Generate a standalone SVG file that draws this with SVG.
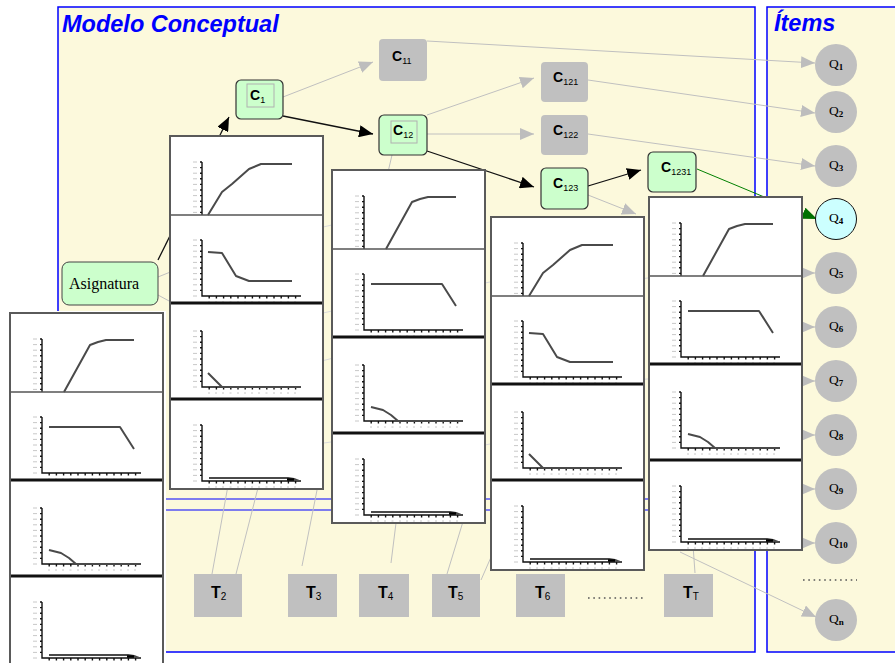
<svg xmlns="http://www.w3.org/2000/svg" width="895" height="663" viewBox="0 0 895 663">
<style>
.panel{fill:#fcf9dc;stroke:#0000ff;stroke-width:1.5}
.title{font-family:"Liberation Sans",Arial,sans-serif;font-weight:bold;font-style:italic;font-size:23.5px;fill:#0000ff}
.cn{fill:#ccffcc;stroke:#333;stroke-width:1.2}
.inner{fill:none;stroke:#b0b0b0;stroke-width:1}
.gn{fill:#c0c0c0}
.cl{font-family:"Liberation Sans",Arial,sans-serif;font-size:14px;font-weight:bold;fill:#000}
.sub{font-size:9px;font-weight:normal}
.tl{font-family:"Liberation Sans",Arial,sans-serif;font-size:16px;font-weight:bold;fill:#000}
.tsub{font-size:10px;font-weight:normal}
.q{fill:#c0c0c0}
.ql{font-family:"Liberation Serif","Times New Roman",serif;font-size:13.5px;fill:#000}
.qsub{font-size:9px;font-weight:bold}
.lg{stroke:#c0c0c0;stroke-width:1;fill:none}
.lf{stroke:#dadada;stroke-width:1;fill:none}
.lk{stroke:#111;stroke-width:1.3;fill:none}
.curve{fill:none;stroke:#4a4a4a;stroke-width:2;stroke-linejoin:round}
.axis{fill:none;stroke:#111;stroke-width:1.4}
.tick{fill:none;stroke:#c8c8c8;stroke-width:1}
.dots{fill:none;stroke:#555;stroke-width:1.6;stroke-dasharray:1.6 3.7}
</style>
<defs>
  <marker id="ag" markerUnits="userSpaceOnUse" markerWidth="14" markerHeight="12" refX="14" refY="6" orient="auto"><path d="M0,0 L14,6 L0,12 Z" fill="#bdbdbd"/></marker>
  <marker id="ab" markerUnits="userSpaceOnUse" markerWidth="14" markerHeight="12" refX="14" refY="6" orient="auto"><path d="M0,0 L14,6 L0,12 Z" fill="#000"/></marker>
  <marker id="agr" markerUnits="userSpaceOnUse" markerWidth="15" markerHeight="12" refX="15" refY="6" orient="auto"><path d="M0,0 L15,6 L0,12 Z" fill="#007000"/></marker>

  <!-- one small chart axis pair, top of the y axis at y=0 -->
  <g id="ax">
    <path class="tick" d="M23,0h4M23,5.6h4M23,11.2h4M23,16.8h4M23,22.4h4M23,28h4M23,33.6h4M23,39.2h4M23,44.8h4M23,50.4h4M23,56h4M38,62h2M45,62h2M52,62h2M59.5,62h2M67,62h2M74,62h2M81,62h2M88,62h2M95.5,62h2M103,62h2M110,62h2M117,62h2M124,62h2"/>
    <path class="axis" d="M32,0V56H131M30,0h2M30,5.6h2M30,11.2h2M30,16.8h2M30,22.4h2M30,28h2M30,33.6h2M30,39.2h2M30,44.8h2M30,50.4h2M39.2,56v2.5M46.4,56v2.5M53.6,56v2.5M60.8,56v2.5M68,56v2.5M75.2,56v2.5M82.4,56v2.5M89.6,56v2.5M96.8,56v2.5M104,56v2.5M111.2,56v2.5M118.4,56v2.5M125.6,56v2.5"/>
  </g>

  <!-- column of four charts, variant A -->
  <g id="stackA">
    <rect width="153" height="353" fill="#fff"/>
    <use href="#ax" y="26"/>
    <rect y="79" width="153" height="274" fill="#fff"/>
    <use href="#ax" y="104"/>
    <use href="#ax" y="195"/>
    <use href="#ax" y="289"/>
    <polyline class="curve" points="54,79 80,32 88,29 96,27 124,27"/>
    <polyline class="curve" points="39,114 110,114 124,136"/>
    <polyline class="curve" points="39,237 51,240 59,245 66,251 131,251"/>
    <polyline class="curve" points="39,342 118,342 124,343 129,345"/>
    <path d="M117,343.5h7" stroke="#000" stroke-width="2.5"/>
    <path d="M0,79H153" stroke="#555" stroke-width="1.5"/>
    <path d="M0,167H153M0,263H153" stroke="#111" stroke-width="3"/>
    <rect width="153" height="353" fill="none" stroke="#5a5a5a" stroke-width="2"/>
  </g>

  <!-- column of four charts, variant B -->
  <g id="stackB">
    <rect width="153" height="353" fill="#fff"/>
    <use href="#ax" y="26"/>
    <rect y="79" width="153" height="274" fill="#fff"/>
    <use href="#ax" y="104"/>
    <use href="#ax" y="195"/>
    <use href="#ax" y="289"/>
    <polyline class="curve" points="38,79 52,56 62,48 79,33 91,28 122,28"/>
    <polyline class="curve" points="38,116 52,117 66,140 79,145 122,145"/>
    <polyline class="curve" points="38,237 52,251 131,251"/>
    <polyline class="curve" points="39,342 118,342 124,343 129,345"/>
    <path d="M117,343.5h7" stroke="#000" stroke-width="2.5"/>
    <path d="M0,79H153" stroke="#555" stroke-width="1.5"/>
    <path d="M0,167H153M0,263H153" stroke="#111" stroke-width="3"/>
    <rect width="153" height="353" fill="none" stroke="#5a5a5a" stroke-width="2"/>
  </g>
</defs>

<rect width="895" height="663" fill="#fff"/>

<!-- panels -->
<g id="panel-modelo">
  <rect class="panel" x="58" y="7" width="697" height="645"/>
  <path d="M166,499H700M166,510H700" stroke="#0000ff" stroke-width="1.2"/>
  <text class="title" x="62" y="31.5">Modelo Conceptual</text>
</g>
<g id="panel-items">
  <rect class="panel" x="767" y="7" width="140" height="645"/>
  <text class="title" x="774" y="30.5">Ítems</text>
</g>

<!-- connectors -->
<g id="connectors">
  <path class="lg" d="M283,97 L373,62" marker-end="url(#ag)"/>
  <path class="lg" d="M427,115 L534,78" marker-end="url(#ag)"/>
  <path class="lg" d="M427,134 L534,134" marker-end="url(#ag)"/>
  <path class="lg" d="M427,41 L815,63" marker-end="url(#ag)"/>
  <path class="lg" d="M588,80 L815,113" marker-end="url(#ag)"/>
  <path class="lg" d="M588,134 L815,166" marker-end="url(#ag)"/>
  <path class="lg" d="M588,195 L636,214" marker-end="url(#ag)"/>
  <path class="lg" d="M770,273 L815,273" marker-end="url(#ag)"/>
  <path class="lg" d="M770,327 L815,327" marker-end="url(#ag)"/>
  <path class="lg" d="M770,381 L815,381" marker-end="url(#ag)"/>
  <path class="lg" d="M770,435 L815,435" marker-end="url(#ag)"/>
  <path class="lg" d="M770,489 L815,489" marker-end="url(#ag)"/>
  <path class="lg" d="M770,543 L815,543" marker-end="url(#ag)"/>
  <path class="lg" d="M680,552 L816,617" marker-end="url(#ag)"/>
  <path class="lg" d="M392,155 L385,185"/>
  <path class="lg" d="M158,277 L195,262M158,295 L195,315"/>
  <path class="lg" d="M212,574 L229,480M236,574 L260,480M302,566 L319,480M391,563 L397,515M447,574 L465,515M481,580 L495,548M695,573 L693,545"/>
  <path class="lf" d="M310,230 L345,222M310,316 L345,308M310,364 L345,355M310,445 L345,440M475,285 L500,280M475,447 L500,442M635,280 L660,276M635,380 L660,378"/>
  <path class="lk" d="M283,116 L373,134" marker-end="url(#ab)"/>
  <path class="lk" d="M427,151 L534,187" marker-end="url(#ab)"/>
  <path class="lk" d="M588,186 L641,170" marker-end="url(#ab)"/>
  <path class="lk" d="M158,260 L229,117" marker-end="url(#ab)"/>
  <path d="M697,169 L817,219" stroke="#008000" stroke-width="1" fill="none" marker-end="url(#agr)"/>
</g>

<!-- chart columns -->
<g id="slice-1"><rect x="7" y="311" width="159" height="360" fill="#fff"/><use href="#stackA" x="10" y="313"/></g>
<g id="slice-2"><use href="#stackB" x="170" y="136"/></g>
<g id="slice-3"><use href="#stackA" x="332" y="170"/></g>
<g id="slice-4"><use href="#stackB" x="491" y="217"/></g>
<g id="slice-5"><use href="#stackA" x="649" y="197"/></g>

<!-- concept nodes -->
<g id="asignatura">
  <rect x="62" y="262" width="96" height="43" rx="7" fill="#ccffcc" stroke="#444" stroke-width="1"/>
  <text x="69" y="289" font-family="'Liberation Serif','Times New Roman',serif" font-size="16">Asignatura</text>
</g>
<g id="c1">
  <rect class="cn" x="236" y="80" width="47" height="39" rx="5"/>
  <rect class="inner" x="247" y="84" width="27" height="23"/>
  <text class="cl" x="250" y="100">C<tspan class="sub" dy="3">1</tspan></text>
</g>
<g id="c11">
  <rect class="gn" x="379" y="39" width="48" height="42" rx="4"/>
  <text class="cl" x="392" y="61">C<tspan class="sub" dy="3">11</tspan></text>
</g>
<g id="c12">
  <rect class="cn" x="379" y="115" width="48" height="40" rx="5"/>
  <rect class="inner" x="391" y="121" width="26" height="22"/>
  <text class="cl" x="393" y="135">C<tspan class="sub" dy="3">12</tspan></text>
</g>
<g id="c121">
  <rect class="gn" x="541" y="62" width="47" height="40" rx="4"/>
  <text class="cl" x="553" y="82">C<tspan class="sub" dy="3">121</tspan></text>
</g>
<g id="c122">
  <rect class="gn" x="541" y="115" width="47" height="40" rx="4"/>
  <text class="cl" x="553" y="135">C<tspan class="sub" dy="3">122</tspan></text>
</g>
<g id="c123">
  <rect class="cn" x="541" y="168" width="47" height="41" rx="5"/>
  <text class="cl" x="553" y="188">C<tspan class="sub" dy="3">123</tspan></text>
</g>
<g id="c1231">
  <rect class="cn" x="648" y="152" width="48" height="40" rx="5"/>
  <text class="cl" x="661" y="172">C<tspan class="sub" dy="3">1231</tspan></text>
</g>

<!-- time nodes -->
<g id="t2"><rect class="gn" x="194" y="574" width="48" height="43"/><text class="tl" x="211" y="598">T<tspan class="tsub" dy="2">2</tspan></text></g>
<g id="t3"><rect class="gn" x="288" y="574" width="49" height="43"/><text class="tl" x="306" y="598">T<tspan class="tsub" dy="2">3</tspan></text></g>
<g id="t4"><rect class="gn" x="359" y="574" width="50" height="43"/><text class="tl" x="378" y="598">T<tspan class="tsub" dy="2">4</tspan></text></g>
<g id="t5"><rect class="gn" x="432" y="574" width="48" height="43"/><text class="tl" x="448" y="598">T<tspan class="tsub" dy="2">5</tspan></text></g>
<g id="t6"><rect class="gn" x="516" y="574" width="49" height="43"/><text class="tl" x="535" y="598">T<tspan class="tsub" dy="2">6</tspan></text></g>
<path class="dots" d="M588,598H643"/>
<g id="tT"><rect class="gn" x="664" y="574" width="49" height="43"/><text class="tl" x="683" y="598">T<tspan class="tsub" dy="2">T</tspan></text></g>

<!-- item nodes -->
<g id="q1"><circle class="q" cx="836" cy="65" r="21"/><text class="ql" x="829" y="68">Q<tspan class="qsub" dy="2">1</tspan></text></g>
<g id="q2"><circle class="q" cx="836" cy="112" r="21"/><text class="ql" x="829" y="115">Q<tspan class="qsub" dy="2">2</tspan></text></g>
<g id="q3"><circle class="q" cx="836" cy="166" r="21"/><text class="ql" x="829" y="169">Q<tspan class="qsub" dy="2">3</tspan></text></g>
<g id="q4"><circle cx="836" cy="219" r="20.5" fill="#ccffff" stroke="#111" stroke-width="1"/><text class="ql" x="829" y="222">Q<tspan class="qsub" dy="2">4</tspan></text></g>
<g id="q5"><circle class="q" cx="836" cy="273" r="21"/><text class="ql" x="829" y="276">Q<tspan class="qsub" dy="2">5</tspan></text></g>
<g id="q6"><circle class="q" cx="836" cy="327" r="21"/><text class="ql" x="829" y="330">Q<tspan class="qsub" dy="2">6</tspan></text></g>
<g id="q7"><circle class="q" cx="836" cy="381" r="21"/><text class="ql" x="829" y="384">Q<tspan class="qsub" dy="2">7</tspan></text></g>
<g id="q8"><circle class="q" cx="836" cy="435" r="21"/><text class="ql" x="829" y="438">Q<tspan class="qsub" dy="2">8</tspan></text></g>
<g id="q9"><circle class="q" cx="836" cy="489" r="21"/><text class="ql" x="829" y="492">Q<tspan class="qsub" dy="2">9</tspan></text></g>
<g id="q10"><circle class="q" cx="836" cy="543" r="21"/><text class="ql" x="829" y="546">Q<tspan class="qsub" dy="2">10</tspan></text></g>
<path class="dots" d="M803,580H857"/>
<g id="qn"><circle class="q" cx="836" cy="620" r="21"/><text class="ql" x="829" y="623">Q<tspan class="qsub" dy="2">n</tspan></text></g>
</svg>
